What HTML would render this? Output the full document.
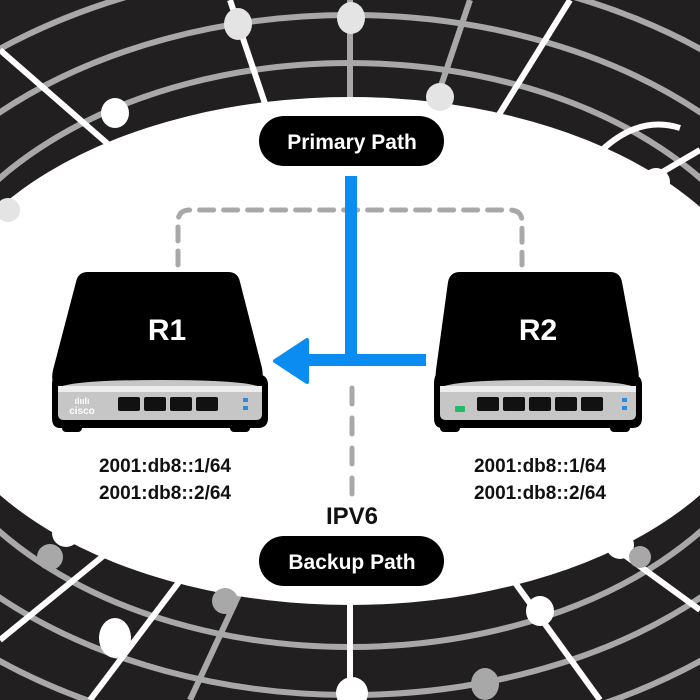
<!DOCTYPE html>
<html><head><meta charset="utf-8"><style>
html,body{margin:0;padding:0;background:#1e1c1c;width:700px;height:700px;overflow:hidden;}
svg{display:block}
text{font-family:"Liberation Sans",sans-serif;font-weight:bold}
</style></head><body>
<svg width="700" height="700" viewBox="0 0 700 700" xmlns="http://www.w3.org/2000/svg">
<rect width="700" height="700" fill="#211f1f"/>
<g fill="none" stroke="#a8a8a8" stroke-width="6">
<ellipse cx="350" cy="355" rx="440" ry="292"/>
<ellipse cx="350" cy="355" rx="500" ry="340"/>
<ellipse cx="350" cy="355" rx="565" ry="390"/>
<ellipse cx="350" cy="355" rx="630" ry="440"/>
</g>
<g stroke="#a8a8a8" stroke-width="6">
<line x1="350" y1="355" x2="350" y2="0"/>
<line x1="350" y1="355" x2="470" y2="0"/>
<line x1="350" y1="355" x2="190" y2="700"/>
</g>
<g stroke="#fff" stroke-width="6">
<line x1="350" y1="355" x2="230" y2="0"/>
<line x1="350" y1="355" x2="570" y2="0"/>
<line x1="350" y1="355" x2="0" y2="50"/>
<line x1="350" y1="355" x2="700" y2="150"/>
<line x1="350" y1="355" x2="0" y2="640"/>
<line x1="350" y1="355" x2="90" y2="700"/>
<line x1="350" y1="355" x2="350" y2="700"/>
<line x1="350" y1="355" x2="600" y2="700"/>
<line x1="350" y1="355" x2="700" y2="610"/>
</g>
<ellipse cx="350" cy="351" rx="425" ry="254" fill="#fff"/>
<path d="M602 150 Q640 115 680 128" fill="none" stroke="#fff" stroke-width="6"/>
<g fill="#e4e4e4">
<ellipse cx="238" cy="24" rx="14" ry="16"/>
<ellipse cx="351" cy="18" rx="14" ry="16"/>
<ellipse cx="440" cy="97" rx="14" ry="14"/>
<ellipse cx="8" cy="210" rx="12" ry="12"/>
</g>
<g fill="#fff">
<ellipse cx="115" cy="113" rx="14" ry="15"/>
<ellipse cx="656" cy="182" rx="14" ry="14"/>
<ellipse cx="66" cy="533" rx="14" ry="14"/>
<ellipse cx="115" cy="638" rx="16" ry="20"/>
<ellipse cx="352" cy="693" rx="16" ry="16"/>
<ellipse cx="540" cy="611" rx="14" ry="15"/>
<ellipse cx="620" cy="545" rx="14" ry="14"/>
</g>
<g fill="#a8a8a8">
<ellipse cx="50" cy="557" rx="13" ry="13"/>
<ellipse cx="225" cy="601" rx="13" ry="13"/>
<ellipse cx="485" cy="684" rx="14" ry="16"/>
<ellipse cx="640" cy="557" rx="11" ry="11"/>
</g>
<path d="M178 265 V222 Q178 210 190 210 H510 Q522 210 522 222 V265" fill="none" stroke="#a8a8a8" stroke-width="5" stroke-dasharray="14 10" stroke-linecap="round"/>
<line x1="352" y1="388" x2="352" y2="495" stroke="#a8a8a8" stroke-width="5" stroke-dasharray="16 14" stroke-linecap="round"/>
<rect x="345" y="176" width="12" height="190" fill="#0a8cf0"/>
<rect x="300" y="354" width="126" height="12" fill="#0a8cf0"/>
<path d="M275 361 L307 340 L307 382 Z" fill="#0a8cf0" stroke="#0a8cf0" stroke-width="4" stroke-linejoin="round"/>
<rect x="259" y="116" width="185" height="50" rx="25" fill="#000"/>
<text x="352" y="149" font-size="21" fill="#fff" text-anchor="middle">Primary Path</text>
<rect x="259" y="536" width="185" height="50" rx="25" fill="#000"/>
<text x="352" y="569" font-size="21" fill="#fff" text-anchor="middle">Backup Path</text>
<text x="352" y="524" font-size="24" fill="#111" text-anchor="middle">IPV6</text>
<text x="165" y="472" font-size="19" fill="#111" text-anchor="middle">2001:db8::1/64</text>
<text x="165" y="499" font-size="19" fill="#111" text-anchor="middle">2001:db8::2/64</text>
<text x="540" y="472" font-size="19" fill="#111" text-anchor="middle">2001:db8::1/64</text>
<text x="540" y="499" font-size="19" fill="#111" text-anchor="middle">2001:db8::2/64</text>
<g>
<rect x="62" y="412" width="20" height="20" rx="4" fill="#000"/>
<rect x="230" y="412" width="20" height="20" rx="4" fill="#000"/>
<path d="M88 272 H228 Q238 272 240 282 L262 368 Q265 385 255 385 H58 Q50 385 53 370 L76 282 Q78 272 88 272 Z" fill="#000"/>
<path d="M55 375 H262 Q268 377 268 385 V418 Q268 428 258 428 H60 Q52 428 52 418 V385 Q52 377 55 375Z" fill="#000"/>
<path d="M58 388 Q70 380 160 380 Q250 380 262 388 V414 Q262 420 256 420 H64 Q58 420 58 414 Z" fill="#c6c6c6"/>
<rect x="58" y="386" width="204" height="6" fill="#ededed"/>
<text x="82" y="414" font-size="10" fill="#fff" text-anchor="middle">cisco</text>
<text x="82" y="404" font-size="9" fill="#fff" text-anchor="middle">ılıılı</text>
<g fill="#111">
<rect x="118" y="397" width="22" height="14" rx="2"/><rect x="144" y="397" width="22" height="14" rx="2"/>
<rect x="170" y="397" width="22" height="14" rx="2"/><rect x="196" y="397" width="22" height="14" rx="2"/>
</g>
<rect x="243" y="398" width="5" height="4" fill="#2a8ae0"/><rect x="243" y="406" width="5" height="4" fill="#2a8ae0"/>
<text x="167" y="340" font-size="30" fill="#fff" text-anchor="middle">R1</text>
</g>
<g>
<rect x="440" y="412" width="20" height="20" rx="4" fill="#000"/>
<rect x="610" y="412" width="20" height="20" rx="4" fill="#000"/>
<path d="M460 272 H610 Q620 272 622 282 L638 368 Q641 385 631 385 H442 Q434 385 436 370 L448 282 Q450 272 460 272 Z" fill="#000"/>
<path d="M436 375 H636 Q642 377 642 385 V418 Q642 428 632 428 H442 Q434 428 434 418 V385 Q434 377 436 375Z" fill="#000"/>
<path d="M440 388 Q452 380 538 380 Q624 380 636 388 V414 Q636 420 630 420 H446 Q440 420 440 414 Z" fill="#c6c6c6"/>
<rect x="440" y="386" width="196" height="6" fill="#ededed"/>
<rect x="455" y="406" width="10" height="6" rx="1" fill="#22bb66"/>
<g fill="#111">
<rect x="477" y="397" width="22" height="14" rx="2"/><rect x="503" y="397" width="22" height="14" rx="2"/>
<rect x="529" y="397" width="22" height="14" rx="2"/><rect x="555" y="397" width="22" height="14" rx="2"/>
<rect x="581" y="397" width="22" height="14" rx="2"/>
</g>
<rect x="622" y="398" width="5" height="4" fill="#2a8ae0"/><rect x="622" y="406" width="5" height="4" fill="#2a8ae0"/>
<text x="538" y="340" font-size="30" fill="#fff" text-anchor="middle">R2</text>
</g>
</svg>
</body></html>
